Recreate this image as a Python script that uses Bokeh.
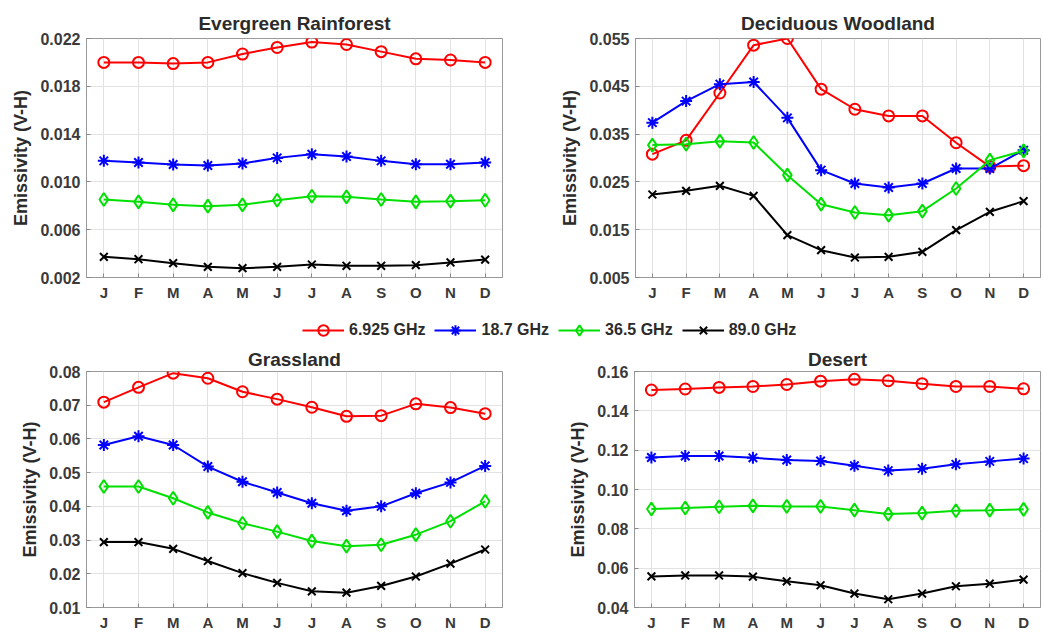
from bokeh.plotting import figure
from bokeh.layouts import column, row
from bokeh.models import FixedTicker, Legend, LegendItem, Range1d, ColumnDataSource
from bokeh.embed import file_html
from bokeh.resources import INLINE

months = ["J", "F", "M", "A", "M", "J", "J", "A", "S", "O", "N", "D"]
month_idx = list(range(1, 13))
series_names = ["6.925 GHz", "18.7 GHz", "36.5 GHz", "89.0 GHz"]

evergreen_6925 = [0.0200, 0.0200, 0.0199, 0.0200, 0.0207, 0.02125, 0.0217, 0.0215, 0.0209, 0.0203, 0.0202, 0.0200]
evergreen_187 = [0.01176, 0.01162, 0.01146, 0.01137, 0.01154, 0.01201, 0.01232, 0.01213, 0.01176, 0.01148, 0.01148, 0.01162]
evergreen_365 = [0.00853, 0.00833, 0.00808, 0.00797, 0.00808, 0.00847, 0.0088, 0.00875, 0.00853, 0.00833, 0.00839, 0.00847]
evergreen_890 = [0.00373, 0.00353, 0.0032, 0.00289, 0.00278, 0.00289, 0.00309, 0.00298, 0.00298, 0.00303, 0.00326, 0.0035]

deciduous_6925 = [0.0308, 0.0337, 0.0436, 0.0536, 0.0550, 0.0444, 0.0402, 0.0388, 0.0388, 0.0332, 0.0282, 0.0284]
deciduous_187 = [0.0374, 0.0419, 0.04545, 0.0459, 0.0384, 0.02746, 0.02467, 0.02383, 0.02467, 0.0278, 0.0278, 0.03164]
deciduous_365 = [0.0327, 0.0329, 0.03352, 0.03324, 0.02641, 0.02034, 0.0186, 0.01804, 0.01888, 0.02362, 0.02955, 0.0315]
deciduous_890 = [0.02236, 0.02313, 0.02418, 0.02208, 0.01386, 0.01072, 0.00918, 0.00932, 0.01037, 0.0149, 0.01874, 0.02097]

grassland_6925 = [0.0709, 0.0753, 0.0795, 0.0780, 0.0740, 0.0718, 0.0694, 0.0667, 0.0669, 0.0704, 0.0693, 0.0675]
grassland_187 = [0.0582, 0.0608, 0.0582, 0.0518, 0.0473, 0.0441, 0.0409, 0.0387, 0.0400, 0.0439, 0.0471, 0.0520]
grassland_365 = [0.0459, 0.0459, 0.0424, 0.0382, 0.0350, 0.0325, 0.0297, 0.0282, 0.0286, 0.0316, 0.0356, 0.0415]
grassland_890 = [0.0294, 0.0294, 0.0274, 0.0238, 0.0202, 0.0173, 0.0148, 0.0144, 0.0164, 0.0192, 0.0230, 0.0272]

desert_6925 = [0.1506, 0.1511, 0.1519, 0.1524, 0.1534, 0.1551, 0.1560, 0.1553, 0.1538, 0.1524, 0.1524, 0.1512]
desert_187 = [0.1163, 0.1170, 0.1170, 0.1161, 0.1150, 0.1145, 0.1121, 0.1096, 0.1106, 0.1128, 0.1143, 0.1157]
desert_365 = [0.0901, 0.0906, 0.0912, 0.0917, 0.0914, 0.0914, 0.0895, 0.0875, 0.0880, 0.0892, 0.0895, 0.0899]
desert_890 = [0.0558, 0.0563, 0.0563, 0.0557, 0.0533, 0.0513, 0.0471, 0.0442, 0.0471, 0.0508, 0.0521, 0.0542]

evergreen_ticks = [0.002, 0.006, 0.010, 0.014, 0.018, 0.022]
deciduous_ticks = [0.005, 0.015, 0.025, 0.035, 0.045, 0.055]
grassland_ticks = [0.01, 0.02, 0.03, 0.04, 0.05, 0.06, 0.07, 0.08]
desert_ticks = [0.04, 0.06, 0.08, 0.10, 0.12, 0.14, 0.16]

colors = ["#ff0000", "#0000ff", "#00e000", "#000000"]
markers = ["circle", "asterisk", "diamond", "x"]
msizes = [11, 12, 13, 11]

FONT = "Liberation Sans"
TXT = "#2b2b2b"


def make_panel(title, series, ticks, fmt, width, height, bl, br, bt, bb, tstand):
    p = figure(width=width, height=height, output_backend="svg", toolbar_location=None,
               min_border_left=bl, min_border_right=br, min_border_top=bt, min_border_bottom=bb,
               x_range=Range1d(0.5, 12.5), y_range=Range1d(ticks[0], ticks[-1]))
    p.title.text = title
    p.title.align = "center"
    p.title.text_font = FONT
    p.title.text_font_size = "19px"
    p.title.text_font_style = "bold"
    p.title.text_color = TXT
    p.title.offset = 0
    p.title.standoff = tstand
    for i, ys in enumerate(series):
        src = ColumnDataSource(dict(x=month_idx, y=ys))
        p.line("x", "y", source=src, line_color=colors[i], line_width=2)
        p.scatter("x", "y", source=src, marker=markers[i], size=msizes[i],
                  line_color=colors[i], fill_color="white" if i in (0, 2) else colors[i],
                  fill_alpha=0.0 if i in (0, 2) else 1.0, line_width=2)
    p.xaxis.ticker = FixedTicker(ticks=month_idx)
    p.xaxis.major_label_overrides = {m: months[m - 1] for m in month_idx}
    p.yaxis.ticker = FixedTicker(ticks=ticks)
    p.yaxis.major_label_overrides = {t: fmt.format(t) for t in ticks}
    p.yaxis.axis_label = "Emissivity (V-H)"
    for ax in (p.xaxis, p.yaxis):
        ax.major_label_text_font = FONT
        ax.major_label_text_font_size = "16px"
        ax.major_label_text_font_style = "bold"
        ax.major_label_text_color = "#3a3a3a"
        ax.axis_label_text_font = FONT
        ax.axis_label_text_font_size = "18px"
        ax.axis_label_text_font_style = "bold"
        ax.axis_label_text_color = TXT
        ax.major_tick_in = 4
        ax.major_tick_out = 0
        ax.minor_tick_line_color = None
        ax.major_tick_line_color = "#888888"
        ax.axis_line_color = "#999999"
        ax.major_label_standoff = 6
    p.xaxis.major_label_text_font_size = "15px"
    p.yaxis.axis_label_standoff = 6
    p.xgrid.grid_line_color = "#e2e2e2"
    p.ygrid.grid_line_color = "#e2e2e2"
    p.outline_line_color = "#999999"
    p.outline_line_alpha = 1.0
    p.background_fill_color = "white"
    p.border_fill_color = "white"
    return p


p1 = make_panel("Evergreen Rainforest", [evergreen_6925, evergreen_187, evergreen_365, evergreen_890],
                evergreen_ticks, "{:.3f}", 520, 312, 86, 18, 38, 35, 9)
p2 = make_panel("Deciduous Woodland", [deciduous_6925, deciduous_187, deciduous_365, deciduous_890],
                deciduous_ticks, "{:.3f}", 523, 312, 115, 3, 38, 35, 9)
p3 = make_panel("Grassland", [grassland_6925, grassland_187, grassland_365, grassland_890],
                grassland_ticks, "{:.2f}", 520, 288, 86, 18, 26, 24, 3)
p4 = make_panel("Desert", [desert_6925, desert_187, desert_365, desert_890],
                desert_ticks, "{:.2f}", 523, 288, 114, 3, 26, 24, 3)

# legend strip
lg = figure(width=1043, height=33, output_backend="svg", toolbar_location=None,
            min_border=0, x_range=Range1d(0, 1), y_range=Range1d(0, 1))
lg.axis.visible = False
lg.grid.visible = False
lg.outline_line_color = None
items = []
for i, name in enumerate(series_names):
    offscreen = ColumnDataSource(dict(x=[-10, -11], y=[-10, -11]))
    r1 = lg.line("x", "y", source=offscreen, line_color=colors[i], line_width=2)
    r2 = lg.scatter("x", "y", source=offscreen, marker=markers[i], size=msizes[i],
                    line_color=colors[i], fill_color="white" if i in (0, 2) else colors[i],
                    fill_alpha=0.0 if i in (0, 2) else 1.0, line_width=2)
    items.append(LegendItem(label=name, renderers=[r1, r2]))
legend = Legend(items=items, orientation="horizontal", location=(302, 2),
                glyph_width=42, glyph_height=26, spacing=9, label_standoff=5,
                padding=2, margin=0, border_line_color=None, background_fill_alpha=0,
                label_text_font=FONT, label_text_font_size="16px",
                label_text_font_style="bold", label_text_color=TXT)
lg.add_layout(legend, "center")

layout = column(row(p1, p2), lg, row(p3, p4))
open("out.html", "w").write(file_html(layout, INLINE))
